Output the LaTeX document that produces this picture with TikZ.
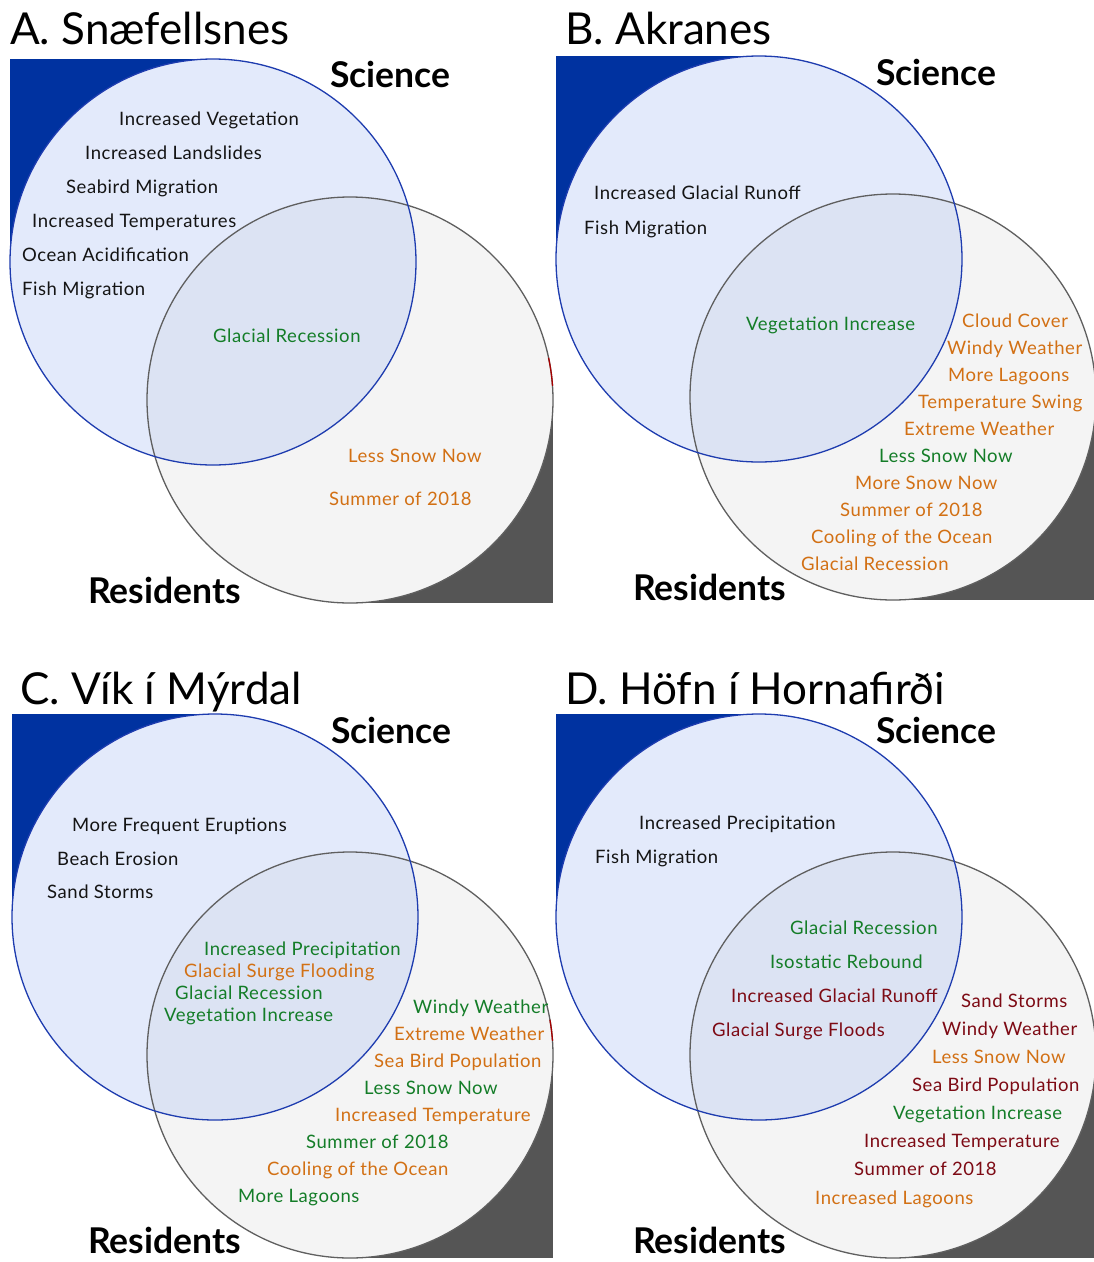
\documentclass[tikz,border=0pt]{standalone}
\usepackage{fontspec}
\setmainfont{Lato}
\newfontfamily\itemfamily[LetterSpace=3]{Lato}
\definecolor{cblue}{RGB}{0,50,160}
\definecolor{cgray}{RGB}{85,85,85}
\definecolor{scifillc}{RGB}{227,234,251}
\definecolor{resfillc}{RGB}{244,244,244}
\definecolor{ovfillc}{RGB}{220,227,243}
\definecolor{scilinec}{RGB}{30,60,175}
\definecolor{reslinec}{RGB}{95,95,95}
\definecolor{tgreen}{RGB}{20,125,40}
\definecolor{torange}{RGB}{210,112,20}
\definecolor{tred}{RGB}{125,10,20}
\definecolor{tblack}{RGB}{20,20,20}
\newcommand\vennpanel[4]{%
  \fill[cblue] ({#1-203},{#2-203}) rectangle (#1,#2);
  \fill[cgray] (#3,#4) rectangle ({#3+203},{#4+203});
  \fill[scifillc] (#1,#2) circle[radius=203];
  \fill[resfillc] (#3,#4) circle[radius=203];
  \begin{scope}
    \clip (#1,#2) circle[radius=203];
    \fill[ovfillc] (#3,#4) circle[radius=203];
  \end{scope}
  \draw[reslinec, line width=1.3pt] (#3,#4) circle[radius=203];
  \draw[scilinec, line width=1.3pt] (#1,#2) circle[radius=203];
}
\tikzset{
  item/.style={anchor=west, inner sep=0pt, font=\itemfamily\fontsize{18.5}{21}\selectfont, text height=13pt, text depth=0pt, text=tblack},
  gr/.style={item, text=tgreen},
  og/.style={item, text=torange},
  dr/.style={item, text=tred},
  ttl/.style={anchor=base west, inner sep=0pt, font=\fontsize{44}{48}\selectfont, text=black},
  lbl/.style={anchor=base west, inner sep=0pt, font=\fontsize{35.5}{40}\selectfont\bfseries, text=black},
  redarc/.style={draw=red!65!black, line width=1.3pt}
}
\begin{document}
\begin{tikzpicture}[x=1pt,y=-1pt]
\useasboundingbox (0,0) rectangle (1094,1262);
\fill[white] (0,0) rectangle (1094,1262);

% ---------- Panel A ----------
\vennpanel{213}{262}{350}{400}
\draw[redarc] (350,400) ++(-4:203) arc[start angle=-4, end angle=-12, radius=203];
\node[ttl] (atitle) at (10,44) {A. Snæfellsnes};
\node[lbl] (asci) at (330,87) {Science};
\node[lbl] (ares) at (88,603) {Residents};
\node[item] (a1) at (119,119) {Increased Vegetation};
\node[item] (a2) at (85,153) {Increased Landslides};
\node[item] (a3) at (66,187) {Seabird Migration};
\node[item] (a4) at (32,221) {Increased Temperatures};
\node[item] (a5) at (22,255) {Ocean Acidification};
\node[item] (a6) at (22,289) {Fish Migration};
\node[gr] (a7) at (213,336) {Glacial Recession};
\node[og] (a8) at (348,456) {Less Snow Now};
\node[og] (a9) at (329,499) {Summer of 2018};

% ---------- Panel B ----------
\vennpanel{759}{259}{893}{397}
\node[ttl] (btitle) at (565,44) {B. Akranes};
\node[lbl] (bsci) at (876,85) {Science};
\node[lbl] (bres) at (633,600) {Residents};
\node[item] (b1) at (594,193) {Increased Glacial Runoff};
\node[item] (b2) at (584,228) {Fish Migration};
\node[gr] (b3) at (746,324) {Vegetation Increase};
\node[og] (b4) at (962,321) {Cloud Cover};
\node[og] (b5) at (947,348) {Windy Weather};
\node[og] (b6) at (948,375) {More Lagoons};
\node[og] (b7) at (918,402) {Temperature Swing};
\node[og] (b8) at (904,429) {Extreme Weather};
\node[gr] (b9) at (879,456) {Less Snow Now};
\node[og] (b10) at (855,483) {More Snow Now};
\node[og] (b11) at (840,510) {Summer of 2018};
\node[og] (b12) at (811,537) {Cooling of the Ocean};
\node[og] (b13) at (801,564) {Glacial Recession};

% ---------- Panel C ----------
\vennpanel{215}{917}{350}{1055}
\draw[redarc] (350,1055) ++(-4:203) arc[start angle=-4, end angle=-10, radius=203];
\node[ttl] (ctitle) at (20,704) {C. Vík í Mýrdal};
\node[lbl] (csci) at (331,743) {Science};
\node[lbl] (cres) at (88,1253) {Residents};
\node[item] (c1) at (72,825) {More Frequent Eruptions};
\node[item] (c2) at (57,859) {Beach Erosion};
\node[item] (c3) at (47,892) {Sand Storms};
\node[gr] (c4) at (204,949) {Increased Precipitation};
\node[og] (c5) at (184,971) {Glacial Surge Flooding};
\node[gr] (c6) at (175,993) {Glacial Recession};
\node[gr] (c7) at (164,1015) {Vegetation Increase};
\node[gr] (c8) at (413,1007) {Windy Weather};
\node[og] (c9) at (394,1034) {Extreme Weather};
\node[og] (c10) at (374,1061) {Sea Bird Population};
\node[gr] (c11) at (364,1088) {Less Snow Now};
\node[og] (c12) at (335,1115) {Increased Temperature};
\node[gr] (c13) at (306,1142) {Summer of 2018};
\node[og] (c14) at (267,1169) {Cooling of the Ocean};
\node[gr] (c15) at (238,1196) {More Lagoons};

% ---------- Panel D ----------
\vennpanel{759}{917}{893}{1055}
\node[ttl] (dtitle) at (565,704) {D. Höfn í Hornafirði};
\node[lbl] (dsci) at (876,743) {Science};
\node[lbl] (dres) at (633,1253) {Residents};
\node[item] (d1) at (639,823) {Increased Precipitation};
\node[item] (d2) at (595,857) {Fish Migration};
\node[gr] (d3) at (790,928) {Glacial Recession};
\node[gr] (d4) at (770,962) {Isostatic Rebound};
\node[dr] (d5) at (731,996) {Increased Glacial Runoff};
\node[dr] (d6) at (712,1030) {Glacial Surge Floods};
\node[dr] (d7) at (961,1001) {Sand Storms};
\node[dr] (d8) at (942,1029) {Windy Weather};
\node[og] (d9) at (932,1057) {Less Snow Now};
\node[dr] (d10) at (912,1085) {Sea Bird Population};
\node[gr] (d11) at (893,1113) {Vegetation Increase};
\node[dr] (d12) at (864,1141) {Increased Temperature};
\node[dr] (d13) at (854,1169) {Summer of 2018};
\node[og] (d14) at (815,1198) {Increased Lagoons};
\end{tikzpicture}
\end{document}
